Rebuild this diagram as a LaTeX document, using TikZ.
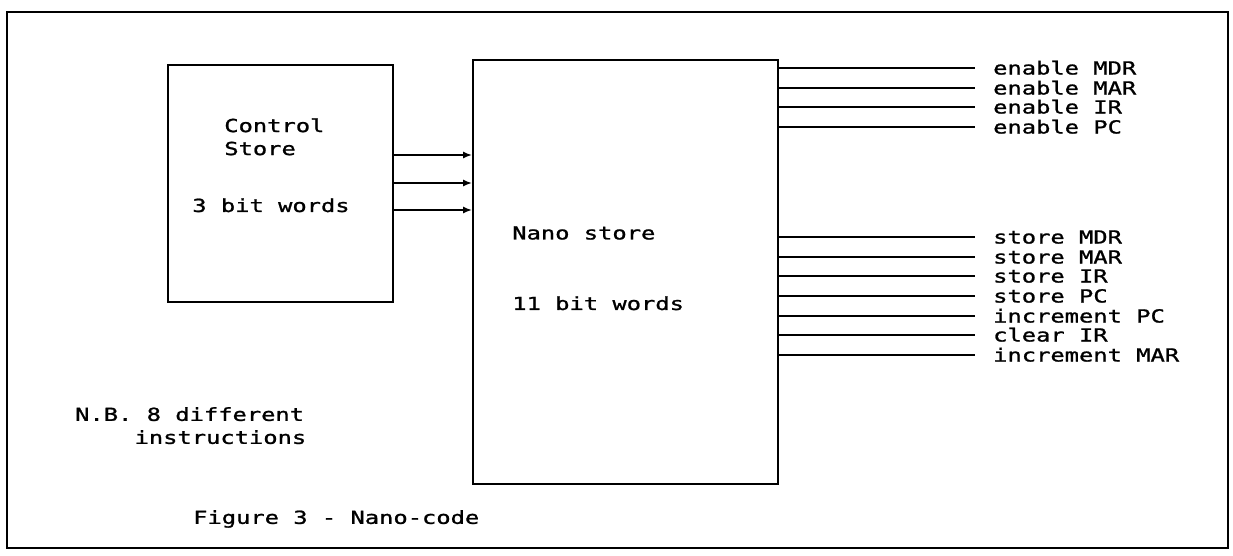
\documentclass[tikz,border=0pt]{standalone}
\usepackage{fontspec}
\newfontfamily\plotfont[FakeStretch=1.32,FakeBold=1.2]{DejaVu Sans Mono}
\usetikzlibrary{arrows.meta,positioning}

\begin{document}
\begin{tikzpicture}[
            x=1pt, y=1pt,
            every node/.style={
                font=\plotfont\fontsize{18}{23}\selectfont,
                inner sep=0pt
            },
            frame/.style={
                draw,
                line width=1.6pt
            },
            store/.style={
                draw,
                line width=1.8pt
            },
            lbl/.style={
                align=left,
                anchor=north west
            },
            sig/.style={
                anchor=west,
                text height=13pt,
                text depth=0pt
            },
            wire/.style={line width=1.7pt},
            feed/.style={line width=1.7pt, -{Latex[length=9pt,width=7pt]}}
        ]

            \useasboundingbox (0,0) rectangle (1233,-555);

            \node[frame, minimum width=1221pt, minimum height=536pt]
                (border) at (617.5,-280) {};

            \node[store, minimum width=225pt, minimum height=237pt]
                (ctrl) at (280.5,-183.5) {};

            \node[store, minimum width=305pt, minimum height=424pt]
                (nano) at (625.5,-272) {};

            % text inside the two stores
            \node[lbl, below right=54pt and 57pt of ctrl.north west]
                (ctrltxt) {Control\\Store};
            \node[lbl, below right=134pt and 25pt of ctrl.north west]
                (ctrlbits) {3 bit words};

            \node[lbl, below right=167pt and 40pt of nano.north west]
                (nanotxt) {Nano store};
            \node[lbl, below right=237pt and 40pt of nano.north west]
                (nanobits) {11 bit words};

            % control store to nano store
            \foreach \y in {155,183,210}
                \draw[feed] (ctrl.east |- 0,-\y) -- (nano.west |- 0,-\y);

            % control lines out of the nano store
            \foreach \y/\t in {68/enable MDR, 88/enable MAR, 107/enable IR,
                    127/enable PC, 237/store MDR, 257/store MAR, 276/store IR,
                    296/store PC, 316/increment PC, 335/clear IR,
                    355/increment MAR} {
                \node[sig] (s\y) at (993,-\y) {\t};
                \draw[wire] (nano.east |- s\y.west) -- ([xshift=-18pt]s\y.west);
            }

            \node[lbl] (note) at (75,-407) {N.B. 8 different\\
                \hspace*{3.3em}instructions};

            \node[lbl] (caption) at (193,-510) {Figure 3 - Nano-code};

        \end{tikzpicture}
\end{document}
